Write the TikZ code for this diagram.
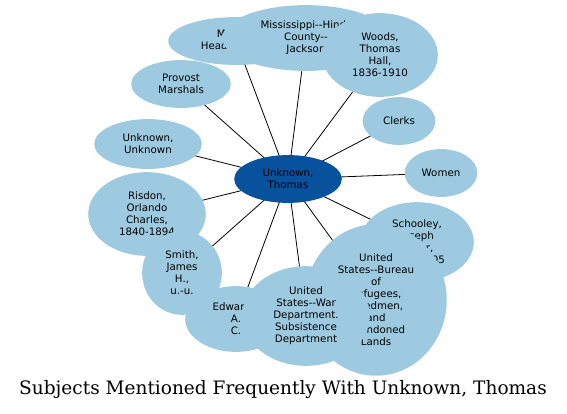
\documentclass[tikz,border=0pt]{standalone}
\usepackage{fontspec}
\setmainfont{DejaVu Serif}
\newfontfamily\subjfont{DejaVu Sans}
\definecolor{SubjBlue}{HTML}{9ECAE1}
\definecolor{HubBlue}{HTML}{08519C}
\usetikzlibrary{shapes.geometric, backgrounds}

\begin{document}
\begin{tikzpicture}[x=1bp, y=-1bp,
      subj/.style={ellipse, fill=SubjBlue, inner sep=0pt, align=center,
         font=\subjfont\fontsize{10.3}{12}\selectfont},
      hub/.style={subj, fill=HubBlue}]
      \useasboundingbox (0,0) rectangle (567,413);
      % Subject nodes (later ones cover earlier ones)
      \node[subj, minimum width=136, minimum height=48] (milhq) at (236,41) {Military\\Headquarters};
      \node[subj, minimum width=168, minimum height=66] (hinds) at (306,38) {Mississippi--Hinds\\County--\\Jackson};
      \node[subj, minimum width=116, minimum height=84] (woods) at (380,55) {Woods,\\Thomas\\Hall,\\1836-1910};
      \node[subj, minimum width=100, minimum height=48] (provost) at (181,84) {Provost\\Marshals};
      \node[subj, minimum width=73, minimum height=48] (clerks) at (399,121) {Clerks};
      \node[subj, minimum width=108, minimum height=50] (unkunk) at (148,144) {Unknown,\\Unknown};
      \node[subj, minimum width=73, minimum height=48] (women) at (441,173) {Women};
      \node[subj, minimum width=118, minimum height=84] (risdon) at (147,214) {Risdon,\\Orlando\\Charles,\\1840-1894};
      \node[subj, minimum width=80, minimum height=84] (smith) at (182,273) {Smith,\\James\\H.,\\u.-u.};
      \node[subj, minimum width=102, minimum height=66] (edwards) at (236,319) {Edwards,\\A.\\C.};
      \node[subj, minimum width=114, minimum height=80] (schooley) at (417,242) {Schooley,\\Joseph\\Baker,\\1835-1905};
      \node[subj, minimum width=142, minimum height=152] (bureau) at (376,300) {United\\States--Bureau\\of\\Refugees,\\Freedmen,\\and\\Abandoned\\Lands};
      \node[subj, minimum width=128, minimum height=100] (wardept) at (306,316) {United\\States--War\\Department.\\Subsistence\\Department};
      % Central person
      \node[hub, minimum width=108, minimum height=48] (thomas) at (288,179) {Unknown,\\Thomas};
      % Links
      \begin{scope}[on background layer]
         \foreach \s in {milhq, hinds, woods, provost, clerks, unkunk, women,
               risdon, smith, edwards, schooley, bureau, wardept}
            \draw[black, line width=0.8pt] (thomas.center) -- (\s.center);
      \end{scope}
      % Title
      \node[font=\fontsize{18.6}{22}\selectfont] (title) at (283,390) {Subjects Mentioned Frequently With Unknown, Thomas};
   \end{tikzpicture}
\end{document}
